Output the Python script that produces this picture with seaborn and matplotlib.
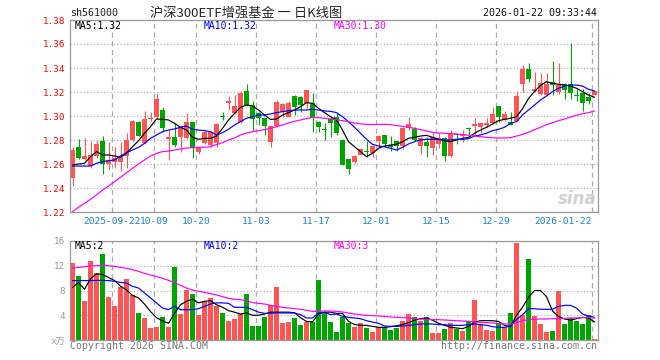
import numpy as np
import pandas as pd
import matplotlib
matplotlib.use("Agg")
import matplotlib.pyplot as plt
import seaborn as sns

# Daily K-line for sh561000
open_ = [1.248, 1.274, 1.264, 1.2586, 1.2667, 1.2794, 1.260, 1.262, 1.262, 1.2667,
         1.280, 1.2953, 1.2772, 1.2975, 1.2994, 1.305, 1.281, 1.2822, 1.2822, 1.2814,
         1.2953, 1.2697, 1.2772, 1.2756, 1.2772, 1.2995, 1.3108, 1.3028, 1.2953, 1.321,
         1.3092, 1.3022, 1.298, 1.2786, 1.2917, 1.3036, 1.2995, 1.3167, 1.3161, 1.3106,
         1.3106, 1.2953, 1.2885, 1.2978, 1.2995, 1.280, 1.2639, 1.2617, 1.2675, 1.2703,
         1.2694, 1.2789, 1.2839, 1.2756, 1.2789, 1.2747, 1.2903, 1.2894, 1.2750, 1.2783,
         1.2731, 1.2767, 1.2817, 1.2667, 1.2846, 1.2833, 1.2892, 1.2917, 1.2906, 1.2922,
         1.2939, 1.3083, 1.2967, 1.2950, 1.2961, 1.3267, 1.3389, 1.3211, 1.3183, 1.3178,
         1.3283, 1.3200, 1.3267, 1.3267, 1.3174, 1.3194, 1.3161, 1.3178]
high_ = [1.274, 1.281, 1.282, 1.279, 1.280, 1.283, 1.278, 1.274, 1.278, 1.2856,
         1.297, 1.2955, 1.3044, 1.303, 1.3183, 1.3072, 1.288, 1.294, 1.2925, 1.3022,
         1.2958, 1.2744, 1.288, 1.2875, 1.2945, 1.3036, 1.3165, 1.3175, 1.3211, 1.3267,
         1.3125, 1.303, 1.298, 1.2917, 1.313, 1.3106, 1.3125, 1.3175, 1.3165, 1.3217,
         1.3189, 1.2958, 1.294, 1.2994, 1.3022, 1.2806, 1.2644, 1.2672, 1.2731, 1.2794,
         1.2756, 1.2839, 1.2844, 1.2833, 1.2794, 1.2906, 1.2994, 1.2911, 1.2828, 1.2822,
         1.2856, 1.2856, 1.2828, 1.2883, 1.2856, 1.2883, 1.2906, 1.2983, 1.2944, 1.2983,
         1.3072, 1.3083, 1.3039, 1.3033, 1.3211, 1.3422, 1.3439, 1.3367, 1.3361, 1.3361,
         1.3461, 1.3444, 1.3278, 1.3611, 1.3222, 1.3222, 1.3194, 1.3211]
low_ = [1.242, 1.264, 1.263, 1.257, 1.265, 1.252, 1.256, 1.257, 1.254, 1.257,
        1.279, 1.283, 1.277, 1.296, 1.2978, 1.2872, 1.2635, 1.2744, 1.2697, 1.2806,
        1.2647, 1.2683, 1.2765, 1.274, 1.2744, 1.297, 1.305, 1.302, 1.294, 1.309,
        1.2878, 1.2925, 1.2842, 1.274, 1.291, 1.299, 1.299, 1.301, 1.3036, 1.307,
        1.287, 1.2864, 1.280, 1.2828, 1.2845, 1.2589, 1.2517, 1.2611, 1.2672, 1.2656,
        1.2661, 1.2744, 1.2744, 1.2711, 1.2711, 1.2722, 1.2883, 1.2794, 1.2683, 1.2661,
        1.2672, 1.2733, 1.2622, 1.2661, 1.2767, 1.2786, 1.2842, 1.2844, 1.2861, 1.2906,
        1.2933, 1.2950, 1.2956, 1.2922, 1.2961, 1.3200, 1.3283, 1.3200, 1.3172, 1.3178,
        1.3172, 1.3183, 1.3139, 1.3139, 1.3128, 1.3039, 1.3100, 1.3172]
close_ = [1.272, 1.265, 1.267, 1.2675, 1.2767, 1.260, 1.2633, 1.265, 1.266, 1.280,
          1.2956, 1.2836, 1.2975, 1.298, 1.3144, 1.290, 1.2825, 1.2756, 1.2917, 1.2953,
          1.2731, 1.2739, 1.287, 1.2867, 1.2936, 1.2994, 1.3122, 1.3086, 1.3194, 1.3092,
          1.2975, 1.298, 1.2917, 1.2917, 1.312, 1.310, 1.311, 1.3078, 1.3092, 1.3217,
          1.2981, 1.2906, 1.2883, 1.294, 1.2856, 1.2592, 1.2561, 1.2669, 1.2728, 1.2700,
          1.2750, 1.2833, 1.2767, 1.2744, 1.2750, 1.2903, 1.2933, 1.2797, 1.2817, 1.2750,
          1.2822, 1.2819, 1.2667, 1.2856, 1.2842, 1.2850, 1.2889, 1.2933, 1.2944, 1.2939,
          1.3017, 1.2989, 1.3017, 1.2922, 1.3167, 1.3389, 1.3311, 1.3228, 1.3278, 1.3267,
          1.3261, 1.3261, 1.3217, 1.3194, 1.3170, 1.3106, 1.3122, 1.3206]

# moving averages as drawn on the chart
ma5 = [1.2592, 1.2600, 1.2606, 1.2661, 1.2703, 1.2675, 1.2675, 1.2667, 1.2656, 1.2690,
       1.2744, 1.2794, 1.2856, 1.2911, 1.2975, 1.2972, 1.2967, 1.2939, 1.2906, 1.2883,
       1.2822, 1.2806, 1.2814, 1.2814, 1.2833, 1.2897, 1.2967, 1.3022, 1.3072, 1.3092,
       1.3083, 1.3050, 1.3008, 1.2972, 1.2975, 1.3008, 1.3028, 1.3050, 1.3078, 1.3111,
       1.3106, 1.3064, 1.3028, 1.2994, 1.2967, 1.2883, 1.2786, 1.2744, 1.2703, 1.2661,
       1.2689, 1.2731, 1.2750, 1.2758, 1.2764, 1.2786, 1.2814, 1.2822, 1.2833, 1.2839,
       1.2822, 1.2806, 1.2794, 1.2786, 1.2800, 1.2814, 1.2822, 1.2856, 1.2883, 1.2906,
       1.2933, 1.2961, 1.2972, 1.2981, 1.2995, 1.3060, 1.3145, 1.3205, 1.3255, 1.3286,
       1.3272, 1.3264, 1.3258, 1.3250, 1.3231, 1.3203, 1.3175, 1.3156]
ma10 = [1.2583, 1.2583, 1.2583, 1.2583, 1.2606, 1.2620, 1.2628, 1.2633, 1.2667, 1.2694,
        1.2717, 1.2739, 1.2772, 1.2814, 1.2842, 1.2869, 1.2883, 1.2892, 1.2906, 1.2917,
        1.2889, 1.2883, 1.2878, 1.2869, 1.2842, 1.2861, 1.2889, 1.2925, 1.2953, 1.2981,
        1.2994, 1.3008, 1.3008, 1.3017, 1.3028, 1.3036, 1.3044, 1.3050, 1.3050, 1.3050,
        1.3056, 1.3050, 1.3042, 1.3039, 1.3028, 1.2994, 1.2953, 1.2906, 1.2856, 1.2806,
        1.2764, 1.2750, 1.2744, 1.2731, 1.2717, 1.2739, 1.2767, 1.2786, 1.2800, 1.2806,
        1.2806, 1.2806, 1.2800, 1.2800, 1.2806, 1.2806, 1.2811, 1.2833, 1.2842, 1.2856,
        1.2878, 1.2889, 1.2906, 1.2939, 1.2953, 1.3008, 1.3050, 1.3092, 1.3133, 1.3167,
        1.3203, 1.3231, 1.3250, 1.3258, 1.3258, 1.3250, 1.3222, 1.3208]
ma30 = [1.2203, 1.2239, 1.2272, 1.2306, 1.2342, 1.2383, 1.2417, 1.2453, 1.2489, 1.2528,
        1.2564, 1.2600, 1.2633, 1.2667, 1.2689, 1.2703, 1.2708, 1.2717, 1.2725, 1.2733,
        1.2736, 1.2739, 1.2739, 1.2744, 1.2762, 1.2778, 1.2800, 1.2817, 1.2842, 1.2858,
        1.2869, 1.2878, 1.2886, 1.2897, 1.2911, 1.2925, 1.2942, 1.2956, 1.2967, 1.2978,
        1.2989, 1.2986, 1.2981, 1.2975, 1.2969, 1.2961, 1.2953, 1.2942, 1.2935, 1.2930,
        1.2928, 1.2930, 1.2931, 1.2928, 1.2920, 1.2914, 1.2906, 1.2897, 1.2886, 1.2875,
        1.2864, 1.2858, 1.2856, 1.2853, 1.2850, 1.2845, 1.2840, 1.2833, 1.2828, 1.2822,
        1.2819, 1.2817, 1.2817, 1.2820, 1.2833, 1.2847, 1.2864, 1.2886, 1.2906, 1.2928,
        1.2944, 1.2961, 1.2975, 1.2992, 1.3006, 1.3019, 1.3028, 1.3042]

# volume (万手) and its moving averages
vol = [12.50, 10.34, 6.36, 12.77, 10.88, 13.95, 6.95, 5.50, 8.57, 9.86,
       7.22, 4.36, 3.56, 1.94, 2.10, 3.66, 2.10, 11.80, 4.20, 8.08,
       7.43, 4.04, 6.25, 6.79, 5.44, 4.36, 3.12, 3.39, 4.20, 7.43,
       2.26, 2.26, 3.66, 5.60, 8.57, 2.75, 2.86, 3.56, 2.37, 2.91,
       2.91, 9.70, 4.53, 2.91, 1.29, 3.66, 2.69, 2.10, 2.75, 1.94,
       1.29, 2.15, 2.15, 1.62, 1.94, 3.02, 4.20, 3.66, 3.12, 3.66,
       1.13, 1.13, 1.83, 2.69, 1.72, 1.40, 3.02, 6.46, 2.59, 1.62,
       1.40, 2.59, 2.05, 4.31, 15.73, 3.99, 13.14, 3.82, 2.59, 1.29,
       1.40, 7.97, 2.59, 3.56, 3.02, 2.59, 3.99, 0.22]
vma5 = [8.5, 9.3, 8.2, 9.9, 10.7, 10.6, 10.1, 9.6, 8.7, 8.1,
        7.2, 6.8, 5.8, 4.6, 3.6, 3.1, 2.7, 4.3, 5.7, 6.25,
        6.6, 6.0, 6.25, 6.36, 5.7, 5.3, 4.75, 4.5, 4.2, 4.36,
        4.0, 4.0, 4.2, 4.5, 4.5, 4.5, 4.5, 4.4, 3.6, 3.0,
        2.95, 4.2, 4.5, 4.5, 4.3, 4.3, 3.0, 2.5, 2.37, 2.37,
        2.2, 2.05, 2.05, 2.15, 2.3, 2.5, 2.8, 3.2, 3.45, 3.56,
        3.2, 2.7, 2.37, 2.05, 1.94, 1.83, 2.2, 2.9, 3.12, 3.12,
        3.12, 3.0, 2.37, 2.15, 4.0, 5.3, 6.9, 8.0, 8.0, 7.0,
        4.7, 3.8, 3.4, 3.2, 3.45, 3.66, 3.56, 2.9]
vma10 = [9.6, 9.6, 9.6, 9.6, 9.64, 9.64, 9.6, 9.48, 9.3, 9.2,
         8.67, 8.4, 7.6, 6.8, 6.0, 5.17, 4.9, 5.44, 4.9, 4.9,
         4.9, 5.06, 5.44, 5.82, 6.0, 6.0, 5.93, 5.28, 5.28, 5.28,
         4.9, 4.5, 4.3, 4.3, 4.4, 4.36, 4.36, 4.36, 4.1, 3.56,
         3.56, 4.36, 4.5, 4.1, 4.2, 3.82, 3.66, 3.56, 3.45, 3.12,
         2.91, 2.7, 2.26, 2.2, 2.2, 2.26, 2.37, 2.48, 2.59, 2.59,
         2.59, 2.48, 2.48, 2.37, 2.37, 2.37, 2.48, 2.59, 2.48, 2.37,
         2.15, 2.05, 2.05, 2.26, 3.29, 4.1, 5.06, 5.06, 4.96, 4.96,
         4.96, 5.44, 5.6, 5.6, 5.17, 4.2, 3.88, 3.66]
vma30 = [11.64, 11.74, 11.85, 11.96, 12.01, 12.07, 12.01, 11.9, 11.74, 11.58,
         11.37, 11.1, 10.77, 10.5, 10.24, 9.97, 9.64, 9.27, 8.83, 8.4,
         8.08, 7.87, 7.7, 7.49, 7.27, 7.0, 6.73, 6.57, 6.52, 6.36,
         6.03, 5.93, 5.82, 5.6, 5.44, 5.28, 5.17, 5.06, 4.96, 4.8,
         4.63, 4.63, 4.69, 4.69, 4.63, 4.53, 4.36, 4.2, 4.09, 3.99,
         3.93, 3.88, 3.82, 3.72, 3.66, 3.61, 3.56, 3.45, 3.39, 3.34,
         3.29, 3.29, 3.23, 3.18, 3.12, 3.07, 3.02, 2.91, 2.86, 2.8,
         2.75, 2.64, 2.59, 2.59, 2.8, 3.12, 3.29, 3.34, 3.39, 3.39,
         3.45, 3.45, 3.5, 3.56, 3.56, 3.61, 3.61, 3.56]

# date axis: candle index of each labelled day
tick_idx = [7, 14, 21, 31, 41, 51, 61, 71, 87]
tick_labels = ["2025-09-22", "10-09", "10-20", "11-03", "11-17",
               "12-01", "12-15", "12-29", "2026-01-22"]
price_ticks = [1.22, 1.24, 1.26, 1.28, 1.30, 1.32, 1.34, 1.36, 1.38]
vol_ticks = [0, 4, 8, 12, 16]
vol_tick_labels = ["x万", "4", "8", "12", "16"]

sns.set_style("white")
plt.rcParams["font.family"] = ["DejaVu Sans Mono", "Noto Sans CJK SC"]

RED = "#ff5555"
GREEN = "#00a600"
GRID = "#aaaaaa"
FRAME = "#999999"

df = pd.DataFrame({"x": np.arange(len(close_)), "open": open_, "high": high_,
                   "low": low_, "close": close_, "ma5": ma5, "ma10": ma10,
                   "ma30": ma30, "vol": vol, "vma5": vma5, "vma10": vma10,
                   "vma30": vma30})
df["up"] = df["close"] >= df["open"]
colors = np.where(df["up"], RED, GREEN)

W, H = 660, 360
fig = plt.figure(figsize=(W / 100, H / 100), dpi=100)
ax = fig.add_axes([70 / W, 148 / H, 528 / W, 192 / H])
axv = fig.add_axes([70 / W, 20 / H, 528 / W, 99 / H])

# candles
ax.vlines(df["x"], df["low"], df["high"], colors=colors, linewidth=0.8, zorder=2)
body_lo = np.minimum(df["open"], df["close"])
body_h = np.maximum((df["close"] - df["open"]).abs(), 0.0007)
ax.bar(df["x"], body_h, bottom=body_lo, width=0.82, color=colors, linewidth=0, zorder=2)

for col, c in [("ma5", "black"), ("ma10", "#0000ff"), ("ma30", "#ff00ff")]:
    sns.lineplot(data=df, x="x", y=col, color=c, linewidth=0.85, ax=ax,
                 estimator=None, sort=False, zorder=3)

# volume
sns.barplot(data=df, x="x", y="vol", hue="up", palette={True: RED, False: GREEN},
            dodge=False, native_scale=True, width=0.82, errorbar=None,
            legend=False, saturation=1, linewidth=0, ax=axv, zorder=2)
for col, c in [("vma5", "black"), ("vma10", "#0000ff"), ("vma30", "#ff00ff")]:
    sns.lineplot(data=df, x="x", y=col, color=c, linewidth=0.85, ax=axv,
                 estimator=None, sort=False, zorder=3)

grid_x = [i - 0.37 for i in tick_idx]
for a in (ax, axv):
    a.set_xlim(-0.42, 87.58)
    a.set_xlabel("")
    a.set_ylabel("")
    a.set_xticks(grid_x)
    a.grid(axis="x", color=GRID, linestyle=(0, (4, 3)), linewidth=0.9)
    a.grid(axis="y", color=GRID, linestyle=(0, (1, 2)), linewidth=0.8)
    a.tick_params(length=0, pad=3.5)
    for s in a.spines.values():
        s.set_color(FRAME)
        s.set_linewidth(0.9)
    a.set_axisbelow(True)

ax.set_ylim(1.22, 1.38)
ax.set_yticks(price_ticks)
ax.set_yticklabels([f"{v:.2f}" for v in price_ticks], color="#ff0000", fontsize=6.7)
ax.set_xticklabels(tick_labels, color="#1a7fd0", fontsize=6.8)
ax.get_xticklabels()[-1].set_horizontalalignment("right")

axv.set_ylim(0, 16)
axv.set_yticks(vol_ticks)
axv.set_yticklabels(vol_tick_labels, color="#999999", fontsize=6.7)
axv.set_xticklabels([])

# in-panel legends
for a, y, items in [(ax, 0.969, ["MA5:1.32", "MA10:1.32", "MA30:1.30"]),
                    (axv, 0.95, ["MA5:2", "MA10:2", "MA30:3"])]:
    for xf, txt, c in zip([0.008, 0.254, 0.5], items, ["black", "#0000ff", "#ff00ff"]):
        a.text(xf, y, txt, transform=a.transAxes, color=c, fontsize=7, va="center")

ax.text(0.998, 0.07, "sina", transform=ax.transAxes, ha="right", va="center",
        fontsize=12, fontstyle="italic", fontweight="bold", color="#d0d0d0",
        family="DejaVu Sans", zorder=1)

# header / footer
fig.text(70 / W, 1 - 13 / H, "sh561000", fontsize=7.2, color="#222222", va="center")
fig.text(246 / W, 1 - 13 / H, "沪深300ETF增强基金 一 日K线图", fontsize=9.5,
         family=["Noto Sans CJK SC", "DejaVu Sans"], ha="center", va="center")
fig.text(597 / W, 1 - 13 / H, "2026-01-22 09:33:44", fontsize=7.2, color="#111111",
         ha="right", va="center")
fig.text(70 / W, 1 - 346 / H, "Copyright 2026 SINA.COM", fontsize=7.1, color="#777777",
         va="center")
fig.text(597 / W, 1 - 346 / H, "http://finance.sina.com.cn", fontsize=7.1,
         color="#777777", ha="right", va="center")

fig.savefig("out.png", dpi=100)
